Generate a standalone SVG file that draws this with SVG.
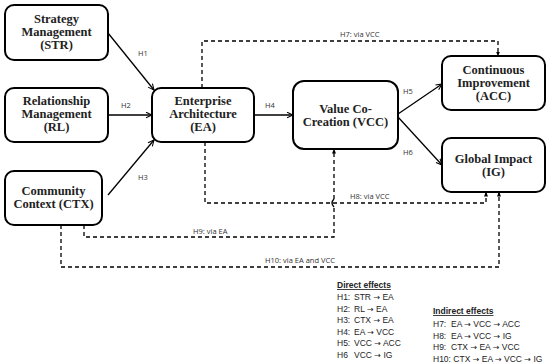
<svg xmlns="http://www.w3.org/2000/svg" width="550" height="364" viewBox="0 0 550 364">
<defs>
<marker id="ar" viewBox="0 0 10 10" refX="9.5" refY="5" markerWidth="7" markerHeight="7" markerUnits="userSpaceOnUse" orient="auto">
<path d="M1,1 L9.5,5 L1,9" fill="none" stroke="#000" stroke-width="1.5"/>
</marker>
<marker id="ad" viewBox="0 0 10 10" refX="9" refY="5" markerWidth="5" markerHeight="5" markerUnits="userSpaceOnUse" orient="auto">
<path d="M0,1 L10,5 L0,9 Z" fill="#000"/>
</marker>
<style>
.box{fill:#fff;stroke:#000;stroke-width:2}
.t{font-family:"Liberation Serif",serif;font-weight:bold;font-size:12.5px;text-anchor:middle;fill:#222}
.s{stroke:#000;stroke-width:1.3;fill:none}
.d{stroke:#000;stroke-width:1.3;fill:none;stroke-dasharray:4,3}
.l{font-family:"Open Sans","Liberation Sans",sans-serif;font-size:7.5px;fill:#333}
.g{font-family:"Liberation Sans",sans-serif;font-size:8.5px;fill:#222}
.a{font-family:"DejaVu Sans",sans-serif;font-size:8px}
</style>
</defs>
<rect width="550" height="364" fill="#fff"/>
<g id="connectors">
<line class="s" x1="108" y1="33" x2="154" y2="90" marker-end="url(#ar)"/>
<line class="s" x1="108" y1="115" x2="152" y2="115" marker-end="url(#ar)"/>
<line class="s" x1="108" y1="195" x2="154" y2="140" marker-end="url(#ar)"/>
<line class="s" x1="254" y1="115" x2="293" y2="115" marker-end="url(#ar)"/>
<line class="s" x1="398" y1="114" x2="442" y2="84" marker-end="url(#ar)"/>
<line class="s" x1="398" y1="117" x2="442" y2="165" marker-end="url(#ar)"/>
<path class="d" d="M202,88 V41 H498 V56" marker-end="url(#ad)"/>
<path class="d" d="M205,142 V203 H486 V192" marker-end="url(#ad)"/>
<path class="d" d="M84,225 V237 H334 V207 M334,199 V149" marker-end="url(#ad)"/>
<path class="s" d="M334,199 Q330,203 334,207" stroke-width="1"/>
<path class="d" d="M61,225 V267 H499 V192" marker-end="url(#ad)"/>
<text class="l" x="138" y="56">H1</text>
<text class="l" x="121" y="108">H2</text>
<text class="l" x="138" y="180">H3</text>
<text class="l" x="265" y="108">H4</text>
<text class="l" x="403" y="94">H5</text>
<text class="l" x="403" y="155">H6</text>
<text class="l" x="340" y="37">H7: via VCC</text>
<text class="l" x="350" y="199">H8: via VCC</text>
<text class="l" x="193" y="234">H9: via EA</text>
<text class="l" x="265" y="263">H10: via EA and VCC</text>
</g>
<g id="STR"><rect class="box" x="5" y="5" width="103" height="55" rx="9"/>
<text class="t" x="56.5" y="23">Strategy</text><text class="t" x="56.5" y="36">Management</text><text class="t" x="56.5" y="49">(STR)</text></g>
<g id="RL"><rect class="box" x="5" y="88" width="103" height="54" rx="9"/>
<text class="t" x="56.5" y="105">Relationship</text><text class="t" x="56.5" y="118">Management</text><text class="t" x="56.5" y="131">(RL)</text></g>
<g id="CTX"><rect class="box" x="5" y="171" width="97" height="54" rx="9"/>
<text class="t" x="53.5" y="195">Community</text><text class="t" x="53.5" y="208">Context (CTX)</text></g>
<g id="EA"><rect class="box" x="152" y="88" width="102" height="54" rx="9"/>
<text class="t" x="203" y="105">Enterprise</text><text class="t" x="203" y="118">Architecture</text><text class="t" x="203" y="131">(EA)</text></g>
<g id="VCC"><rect class="box" x="293" y="81" width="105" height="68" rx="11"/>
<text class="t" x="345.5" y="113">Value Co-</text><text class="t" x="345.5" y="126">Creation (VCC)</text></g>
<g id="ACC"><rect class="box" x="442" y="56" width="103" height="54" rx="9"/>
<text class="t" x="493.5" y="74">Continuous</text><text class="t" x="493.5" y="87">Improvement</text><text class="t" x="493.5" y="100">(ACC)</text></g>
<g id="IG"><rect class="box" x="442" y="138" width="103" height="54" rx="9"/>
<text class="t" x="493.5" y="163">Global Impact</text><text class="t" x="493.5" y="176">(IG)</text></g>
<g id="legend">
<text class="g" x="337" y="288" font-weight="bold" text-decoration="underline">Direct effects</text>
<text class="g" x="337" y="300">H1:</text><text class="g" x="354" y="300">STR <tspan class="a">→</tspan> EA</text>
<text class="g" x="337" y="311.5">H2:</text><text class="g" x="354" y="311.5">RL <tspan class="a">→</tspan> EA</text>
<text class="g" x="337" y="323">H3:</text><text class="g" x="354" y="323">CTX <tspan class="a">→</tspan> EA</text>
<text class="g" x="337" y="334.5">H4:</text><text class="g" x="354" y="334.5">EA <tspan class="a">→</tspan> VCC</text>
<text class="g" x="337" y="346">H5:</text><text class="g" x="354" y="346">VCC <tspan class="a">→</tspan> ACC</text>
<text class="g" x="337" y="357.5">H6</text><text class="g" x="354" y="357.5">VCC <tspan class="a">→</tspan> IG</text>
<text class="g" x="433" y="314" font-weight="bold" text-decoration="underline">Indirect effects</text>
<text class="g" x="433" y="327">H7:</text><text class="g" x="451" y="327">EA <tspan class="a">→</tspan> VCC <tspan class="a">→</tspan> ACC</text>
<text class="g" x="433" y="338.5">H8:</text><text class="g" x="451" y="338.5">EA <tspan class="a">→</tspan> VCC <tspan class="a">→</tspan> IG</text>
<text class="g" x="433" y="350">H9:</text><text class="g" x="451" y="350">CTX <tspan class="a">→</tspan> EA <tspan class="a">→</tspan> VCC</text>
<text class="g" x="433" y="361.5" font-size="8">H10: CTX <tspan class="a">→</tspan> EA <tspan class="a">→</tspan> VCC <tspan class="a">→</tspan> IG</text>
</g>
</svg>
